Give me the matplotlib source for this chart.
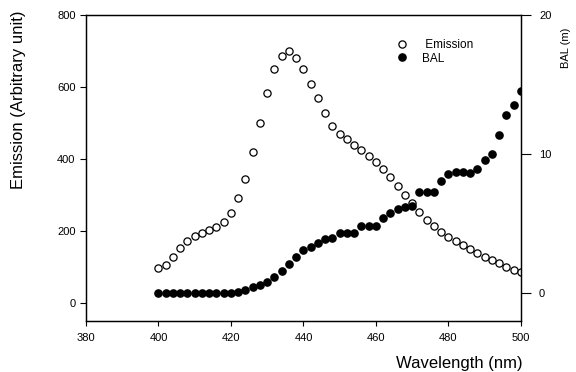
import numpy as np
import matplotlib.pyplot as plt

plt.rcParams['font.family'] = ['Liberation Sans', 'DejaVu Sans']

# wavelength (nm), every 2 nm
wavelength = np.arange(400, 501, 2)

# emission intensity (arbitrary unit)
emission = [96, 105, 128, 154, 173, 187, 194, 202, 210, 224,
            249, 291, 345, 419, 500, 584, 649, 687, 700, 680,
            649, 609, 570, 527, 491, 470, 456, 440, 424, 409,
            391, 373, 349, 324, 300, 277, 254, 230, 213, 196,
            182, 171, 161, 150, 138, 127, 119, 110, 100, 92, 86]

# BAL (m)
bal = [0, 0, 0, 0, 0, 0, 0, 0, 0, 0,
       0.05, 0.12, 0.24, 0.41, 0.6, 0.84, 1.18, 1.57, 2.08, 2.59,
       3.12, 3.31, 3.6, 3.92, 3.97, 4.33, 4.33, 4.35, 4.84, 4.84,
       4.84, 5.43, 5.79, 6.04, 6.23, 6.28, 7.25, 7.25, 7.25, 8.07,
       8.6, 8.7, 8.7, 8.65, 8.92, 9.55, 10.0, 11.37, 12.84, 13.52, 14.5]

fig = plt.figure(figsize=(5.76, 3.72), dpi=100)
ax = fig.add_axes([0.1493, 0.137, 0.7552, 0.823])
ax2 = ax.twinx()

l1, = ax.plot(wavelength, emission, 'o', ms=5.2, mfc='white', mec='black',
              mew=0.9, ls='none', label=' Emission')
l2, = ax2.plot(wavelength, bal, 'o', ms=5.2, mfc='black', mec='black',
               ls='none', label='BAL')

ax.set_xlim(380, 500)
ax.set_ylim(-50, 800)
ax2.set_ylim(-2, 20)
ax.set_xticks(np.arange(380, 501, 20))
ax.set_yticks(np.arange(0, 801, 200))
ax2.set_yticks([0, 10, 20])

for a in (ax, ax2):
    for s in a.spines.values():
        s.set_linewidth(0.9)
ax.tick_params(axis='x', direction='out', length=3.5, width=0.8, labelsize=8, pad=5)
ax.tick_params(axis='y', direction='out', length=4.5, width=0.8, labelsize=8, pad=3)
ax2.tick_params(axis='y', direction='out', length=7, width=0.8, labelsize=8, pad=6)

fig.text(0.032, 0.731, 'Emission (Arbitrary unit)', rotation=90, ha='center',
         va='center', fontsize=12)
fig.text(0.908, 0.022, 'Wavelength (nm)', ha='right', va='center', fontsize=12)
fig.text(0.983, 0.871, 'BAL (m)', rotation=90, ha='center', va='center', fontsize=8)

ax2.legend(handles=[l1, l2], loc='upper left', bbox_to_anchor=(0.687, 0.894),
           bbox_transform=fig.transFigure, frameon=False, fontsize=8.5,
           handletextpad=1.2, labelspacing=0.1, borderpad=0,
           borderaxespad=0, handlelength=1.0)

fig.savefig('out.png', dpi=100)
